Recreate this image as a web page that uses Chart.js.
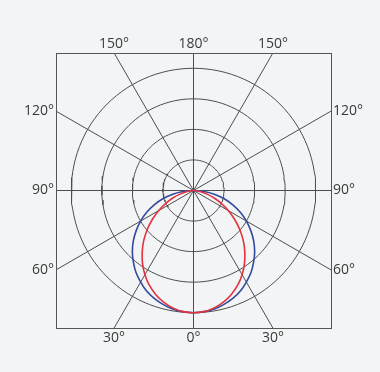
<!DOCTYPE html>
<html>
<head>
<meta charset="utf-8">
<script src="https://cdn.jsdelivr.net/npm/chart.js@4"></script>
<style>
  body { margin: 0; background: #f2f4f5; }
  #wrap { width: 380px; height: 372px; }
</style>
</head>
<body>
<div id="wrap"><canvas id="my-chart"></canvas></div>
<script>
// angles measured from straight down (0°), read every 5°
const angleDeg = [-90, -85, -80, -75, -70, -65, -60, -55, -50, -45, -40, -35, -30, -25, -20, -15, -10, -5,
  0, 5, 10, 15, 20, 25, 30, 35, 40, 45, 50, 55, 60, 65, 70, 75, 80, 85, 90];
const blueR = [0, 0.35, 0.69, 1.04, 1.37, 1.69, 2.0, 2.29, 2.57, 2.83, 3.06, 3.28, 3.46, 3.63, 3.76, 3.86, 3.94, 3.98,
  4.0, 3.98, 3.94, 3.86, 3.76, 3.63, 3.46, 3.28, 3.06, 2.83, 2.57, 2.29, 2.0, 1.69, 1.37, 1.04, 0.69, 0.35, 0];
const redR = [0, 0.08, 0.24, 0.46, 0.72, 1.01, 1.32, 1.64, 1.97, 2.3, 2.61, 2.91, 3.18, 3.42, 3.62, 3.78, 3.9, 3.98,
  4.0, 3.98, 3.9, 3.78, 3.62, 3.42, 3.18, 2.91, 2.61, 2.3, 1.97, 1.64, 1.32, 1.01, 0.72, 0.46, 0.24, 0.08, 0];

const ringR = [1, 2, 3, 4];
const spokeDeg = [0, 30, 60, 90, 120, 150, 180, 210, 240, 270, 300, 330];
const spokeLabels = ["0°", "30°", "60°", "90°", "120°", "150°", "180°", "150°", "120°", "90°", "60°", "30°"];
const boxHalf = 4.5;

const rad = (d) => d * Math.PI / 180;

function polarToXY(degs, rs) {
  return degs.map((d, i) => ({ x: rs[i] * Math.sin(rad(d)), y: -rs[i] * Math.cos(rad(d)) }));
}

function spokeEnd(d) {
  const s = Math.sin(rad(d)), c = Math.cos(rad(d));
  const t = boxHalf / Math.max(Math.abs(s), Math.abs(c));
  return { x: t * s, y: -t * c };
}

const gridColor = "#4d4d4d";
const datasets = [];

datasets.push({
  data: polarToXY(angleDeg, redR),
  borderColor: "#e2333f", borderWidth: 1.6, tension: 0.35, order: 0
});
datasets.push({
  data: polarToXY(angleDeg, blueR),
  borderColor: "#34499c", borderWidth: 1.6, tension: 0.35, order: 1
});

ringR.forEach((r) => {
  const degs = [];
  for (let d = 0; d <= 360; d += 3) degs.push(d);
  datasets.push({
    data: polarToXY(degs, degs.map(() => r)),
    borderColor: gridColor, borderWidth: 1, order: 2
  });
});

spokeDeg.forEach((d) => {
  datasets.push({
    data: [{ x: 0, y: 0 }, spokeEnd(d)],
    borderColor: gridColor, borderWidth: 1, order: 2
  });
});

// box round the plot + angle labels at the spoke ends
const boxAndLabels = {
  id: "boxAndLabels",
  afterDraw(chart) {
    const ctx = chart.ctx;
    const a = chart.chartArea;
    const xs = chart.scales.x, ys = chart.scales.y;
    ctx.save();
    ctx.strokeStyle = "#555";
    ctx.lineWidth = 1;
    ctx.strokeRect(Math.round(a.left) + 0.5, Math.round(a.top) + 0.5,
      Math.round(a.right - a.left), Math.round(a.bottom - a.top));
    ctx.fillStyle = "#3a3a3a";
    ctx.font = "14px 'Open Sans'";
    spokeDeg.forEach((d, i) => {
      const e = spokeEnd(d);
      const px = xs.getPixelForValue(e.x), py = ys.getPixelForValue(e.y);
      if (Math.abs(e.y) >= boxHalf - 1e-6) {
        ctx.textAlign = "center";
        if (e.y > 0) { ctx.textBaseline = "bottom"; ctx.fillText(spokeLabels[i], px, py - 2); }
        else { ctx.textBaseline = "top"; ctx.fillText(spokeLabels[i], px, py + 3); }
      } else {
        ctx.textBaseline = "middle";
        if (e.x < 0) { ctx.textAlign = "right"; ctx.fillText(spokeLabels[i], px - 2, py); }
        else { ctx.textAlign = "left"; ctx.fillText(spokeLabels[i], px + 2, py); }
      }
    });
    ctx.restore();
  }
};

const chart = new Chart(document.getElementById("my-chart").getContext("2d"), {
  type: "scatter",
  data: { datasets: datasets.map((ds) => Object.assign({ showLine: true, pointRadius: 0, fill: false, tension: 0 }, ds)) },
  options: {
    responsive: true,
    maintainAspectRatio: false,
    animation: false,
    layout: { padding: { left: 56, right: 49, top: 53, bottom: 44 } },
    plugins: { legend: { display: false }, tooltip: { enabled: false } },
    scales: {
      x: { display: false, min: -boxHalf, max: boxHalf },
      y: { display: false, min: -boxHalf, max: boxHalf }
    }
  },
  plugins: [boxAndLabels]
});
</script>
</body>
</html>
